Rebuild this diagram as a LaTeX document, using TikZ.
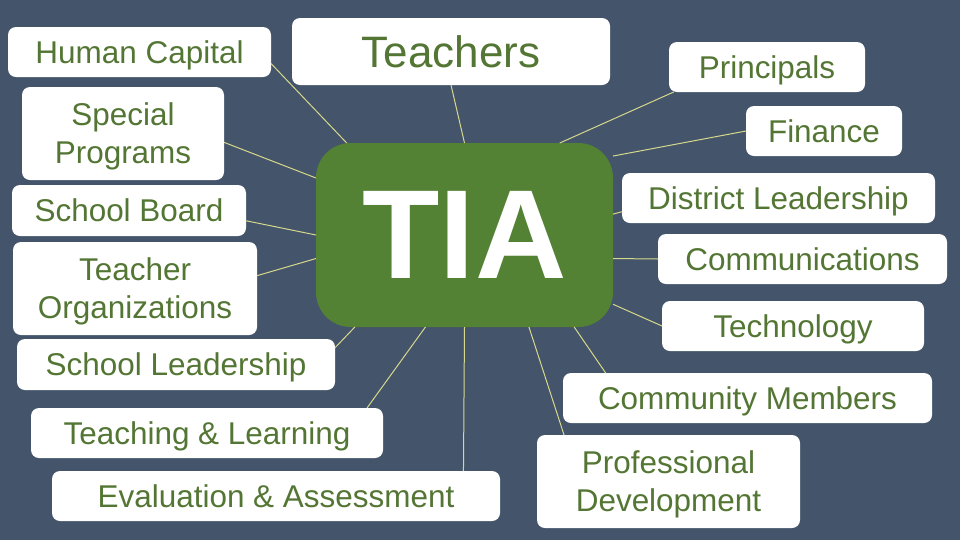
\documentclass[tikz,border=0pt]{standalone}
\usepackage{fontspec}
\setmainfont{Liberation Sans}
\definecolor{slate}{RGB}{68,84,106}
\definecolor{leaf}{RGB}{84,130,53}
\definecolor{leaftext}{RGB}{84,118,52}
\definecolor{wire}{RGB}{214,216,140}
\begin{document}
\begin{tikzpicture}[x=0.75pt, y=-0.75pt,
    box/.style = {fill=white, rounded corners=6pt, inner sep=0pt, outer sep=0pt, text=leaftext, font=\fontsize{23.6}{28.5}\selectfont},
    one/.style = {box, text height=21.7pt, text depth=4.7pt},
    two/.style = {box, align=center, text depth=0pt},
    sz/.style 2 args = {minimum width=#1*0.75pt, minimum height=#2*0.75pt},
    link/.style = {wire, line width=0.75pt}]
    \fill[slate] (0,0) rectangle (960,540);
    \useasboundingbox (0,0) rectangle (960,540);
    % centre
    \node[fill=leaf, rounded corners=26pt, inner sep=0pt, outer sep=0pt, text=white, sz={297}{184}, font=\fontsize{95}{95}\selectfont\bfseries] (tia) at (464.5,235) {TIA};
    % left side
    \node[one, sz={263}{50}] (hc) at (139.5,52) {Human Capital};
    \node[one, sz={318}{67}, text height=30.4pt, text depth=6.6pt, font=\fontsize{33}{40}\selectfont] (teach) at (451,51.5) {Teachers};
    \node[two, sz={202}{93}] (sp) at (123,133.5) {Special\\Programs};
    \node[one, sz={234}{51}] (sb) at (129,210.5) {School Board};
    \node[two, sz={244}{93}] (to) at (135,288.5) {Teacher\\Organizations};
    \node[one, sz={318}{51}] (sl) at (176,364.5) {School Leadership};
    \node[one, sz={352}{50}] (tl) at (207,433) {Teaching \& Learning};
    \node[one, sz={448}{50}] (ea) at (276,496) {Evaluation \& Assessment};
    % right side
    \node[one, sz={196}{50}] (pr) at (767,67) {Principals};
    \node[one, sz={156}{50}] (fi) at (824,131) {Finance};
    \node[one, sz={313}{50}] (dl) at (778.5,198) {District Leadership};
    \node[one, sz={289}{50}] (co) at (802.5,259) {Communications};
    \node[one, sz={262}{50}] (te) at (793,326) {Technology};
    \node[one, sz={369}{50}] (cm) at (747.5,398) {Community Members};
    \node[two, sz={263}{93}] (pd) at (668.5,481.5) {Professional\\Development};
    % connectors
    \draw[link] (hc.-5.6) -- (tia.142.4);
    \draw[link] (teach.south) -- (tia.north);
    \draw[link] (sp.-5.4) -- (tia.159);
    \draw[link] (sb.-5.5) -- (tia.180);
    \draw[link] (to.6.4) -- (tia.189.9);
    \draw[link] (sl.6.7) -- (tia.220.8);
    \draw[link] ([xshift=120pt]tl.north) -- (tia.247.8);
    \draw[link] ([xshift=140.6pt]ea.north) -- (tia.south);
    \draw[link] (pd.156.4) -- (tia.-55.8);
    \draw[link] (cm.170) -- (tia.-40.6);
    \draw[link] (te.west) -- (tia.-25.9);
    \draw[link] (co.west) -- (tia.-9.2);
    \draw[link] (dl.185.1) -- (tia.8.4);
    \draw[link] (fi.west) -- (tia.28.8);
    \draw[link] (pr.195) -- (tia.44.8);
\end{tikzpicture}
\end{document}
